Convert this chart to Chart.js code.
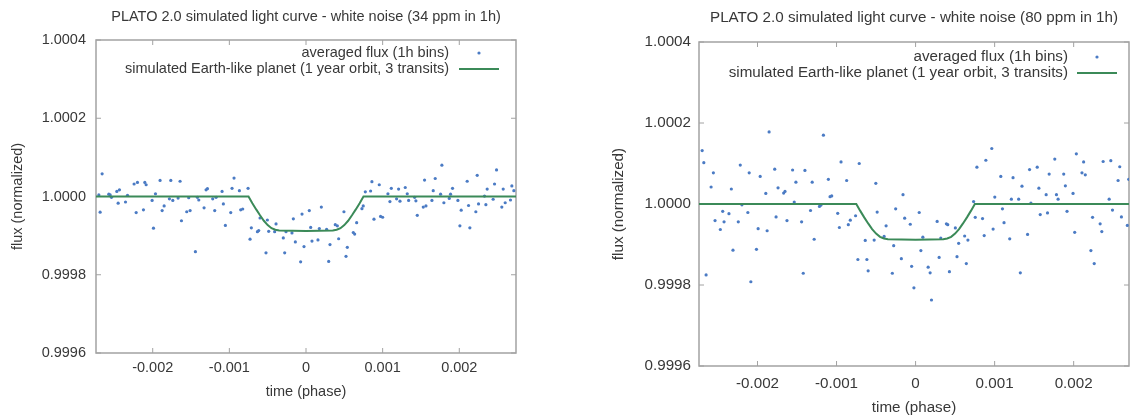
<!DOCTYPE html>
<html>
<head>
<meta charset="utf-8">
<title>PLATO 2.0 simulated light curves</title>
<script src="https://cdn.jsdelivr.net/npm/chart.js@4.4.1/dist/chart.umd.min.js"></script>
<style>
    html, body { margin: 0; padding: 0; background: #fff; width: 1133px; height: 418px; overflow: hidden; }
    .panel { position: absolute; top: 0; height: 418px; }
</style>
</head>
<body>
<div class="panel" style="left:0;width:566px"><canvas id="leftChart" width="566" height="418"></canvas></div>
<div class="panel" style="left:566px;width:567px"><canvas id="rightChart" width="567" height="418"></canvas></div>
<script>
// ---- data ----
const titles = [
    'PLATO 2.0 simulated light curve - white noise (34 ppm in 1h)',
    'PLATO 2.0 simulated light curve - white noise (80 ppm in 1h)'
];
const legendLabels = ['averaged flux (1h bins)', 'simulated Earth-like planet (1 year orbit, 3 transits)'];
const xTicks = [-0.002, -0.001, 0, 0.001, 0.002];
const xTickLabels = ['-0.002', '-0.001', '0', '0.001', '0.002'];
const yTicks = [0.9996, 0.9998, 1.0, 1.0002, 1.0004];
const yTickLabels = ['0.9996', '0.9998', '1.0000', '1.0002', '1.0004'];

// 34 ppm panel: averaged flux points
const leftPhase = [
    -0.002703, -0.002686, -0.002660, -0.002573, -0.002555, -0.002538, -0.002468, -0.002451, -0.002434,
    -0.002355, -0.002329, -0.002243, -0.002216, -0.002199, -0.002121, -0.002103, -0.002086, -0.002008,
    -0.001990, -0.001964, -0.001904, -0.001877, -0.001851, -0.001782, -0.001764, -0.001738, -0.001669,
    -0.001643, -0.001625, -0.001556, -0.001530, -0.001512, -0.001443, -0.001417, -0.001399, -0.001330,
    -0.001304, -0.001286, -0.001217, -0.001191, -0.001173, -0.001095, -0.001078, -0.001052, -0.000982,
    -0.000965, -0.000939, -0.000869, -0.000852, -0.000826, -0.000756, -0.000730, -0.000713, -0.000634,
    -0.000617, -0.000600, -0.000522, -0.000504, -0.000487, -0.000409, -0.000391, -0.000296, -0.000278,
    -0.000261, -0.000183, -0.000165, -0.000139, -0.000070, -0.000052, -0.000026,
    0.000043, 0.000061, 0.000078, 0.000156, 0.000174, 0.000200, 0.000269, 0.000296, 0.000313,
    0.000382, 0.000409, 0.000426, 0.000495, 0.000522, 0.000539, 0.000617, 0.000635, 0.000661,
    0.000730, 0.000747, 0.000774, 0.000843, 0.000860, 0.000887, 0.000956, 0.000973, 0.001000,
    0.001069, 0.001095, 0.001113, 0.001182, 0.001208, 0.001226, 0.001295, 0.001321, 0.001339,
    0.001417, 0.001434, 0.001452, 0.001530, 0.001547, 0.001565, 0.001643, 0.001660, 0.001686,
    0.001756, 0.001773, 0.001799, 0.001869, 0.001886, 0.001912, 0.001982, 0.002008, 0.002025,
    0.002103, 0.002121, 0.002138, 0.002216, 0.002234, 0.002251, 0.002329, 0.002347, 0.002364,
    0.002442, 0.002460, 0.002486, 0.002555, 0.002573, 0.002599, 0.002668, 0.002686, 0.002712
];
const leftFlux = [
    1.000004, 0.999960, 1.000058, 1.000006, 1.000004, 0.999998, 1.000013, 0.999983, 1.000017,
    0.999986, 1.000003, 1.000032, 0.999959, 1.000036, 0.999966, 1.000036, 1.000030, 0.999990,
    0.999919, 1.000007, 1.000041, 0.999964, 0.999976, 0.999994, 1.000041, 0.999990, 0.999996,
    1.000039, 0.999938, 0.999961, 0.999997, 0.999964, 0.999859, 0.999998, 0.999991, 0.999971,
    1.000017, 1.000020, 0.999994, 0.999964, 0.999998, 1.000013, 0.999981, 0.999926, 0.999959,
    1.000021, 1.000047, 1.000015, 0.999966, 0.999968, 1.000021, 0.999891, 0.999920, 0.999910,
    0.999913, 0.999945, 0.999856, 0.999940, 0.999911, 0.999910, 0.999930, 0.999894, 0.999856,
    0.999910, 0.999907, 0.999943, 0.999884, 0.999833, 0.999955, 0.999872,
    0.999964, 0.999921, 0.999886, 0.999889, 0.999918, 0.999973, 0.999916, 0.999834, 0.999877,
    0.999928, 0.999925, 0.999892, 0.999961, 0.999847, 0.999870, 0.999908, 0.999904, 0.999933,
    0.999969, 0.999976, 1.000012, 1.000014, 1.000038, 0.999942, 1.000030, 0.999949, 0.999947,
    1.000007, 0.999987, 1.000021, 0.999994, 1.000019, 0.999988, 1.000023, 1.000007, 0.999990,
    0.999998, 0.999989, 0.999952, 0.999973, 1.000042, 0.999976, 0.999990, 1.000015, 1.000046,
    1.000006, 1.000080, 0.999984, 0.999995, 1.000006, 1.000021, 0.999990, 0.999925, 0.999965,
    1.000039, 0.999977, 0.999920, 0.999961, 1.000054, 0.999981, 1.000001, 0.999979, 1.000019,
    0.999993, 1.000032, 1.000068, 0.999973, 1.000019, 0.999984, 0.999991, 1.000027, 1.000015
];

// 80 ppm panel: averaged flux points
const rightPhase = [
    -0.002700, -0.002679, -0.002650, -0.002587, -0.002558, -0.002537, -0.002470, -0.002440, -0.002423,
    -0.002361, -0.002331, -0.002310, -0.002243, -0.002218, -0.002197, -0.002122, -0.002105, -0.002084,
    -0.002013, -0.001992, -0.001966, -0.001895, -0.001878, -0.001853, -0.001782, -0.001765, -0.001740,
    -0.001669, -0.001652, -0.001627, -0.001556, -0.001535, -0.001514, -0.001442, -0.001421, -0.001400,
    -0.001329, -0.001308, -0.001283, -0.001216, -0.001199, -0.001166, -0.001103, -0.001082, -0.001061,
    -0.000985, -0.000964, -0.000943, -0.000872, -0.000851, -0.000826, -0.000759, -0.000730, -0.000713,
    -0.000637, -0.000616, -0.000600, -0.000524, -0.000503, -0.000486,
    -0.000398, -0.000373, -0.000294, -0.000277, -0.000252, -0.000180, -0.000159, -0.000138, -0.000067,
    -0.000050, -0.000021, 0.000046, 0.000067, 0.000092, 0.000159, 0.000184, 0.000201, 0.000273,
    0.000298, 0.000319, 0.000390, 0.000407, 0.000428, 0.000503, 0.000524, 0.000545, 0.000621,
    0.000642, 0.000662, 0.000734, 0.000755, 0.000776, 0.000847, 0.000868, 0.000889, 0.000964,
    0.000981, 0.001002, 0.001078, 0.001099, 0.001119, 0.001191, 0.001212, 0.001233, 0.001304,
    0.001325, 0.001346, 0.001417, 0.001442, 0.001459, 0.001539, 0.001560, 0.001577, 0.001652,
    0.001669, 0.001690, 0.001761, 0.001782, 0.001803, 0.001874, 0.001895, 0.001916, 0.001992,
    0.002013, 0.002034, 0.002105, 0.002126, 0.002147, 0.002218, 0.002239, 0.002260, 0.002335,
    0.002356, 0.002373, 0.002449, 0.002470, 0.002491, 0.002562, 0.002583, 0.002604, 0.002679,
    0.002696
];
const rightFlux = [
    1.000132, 1.000102, 0.999825, 1.000042, 1.000077, 0.999959, 0.999937, 0.999982, 0.999956,
    0.999976, 1.000037, 0.999886, 0.999956, 1.000096, 0.999998, 0.999979, 1.000077, 0.999808,
    0.999888, 0.999939, 1.000068, 1.000026, 0.999934, 1.000178, 1.000086, 0.999968, 1.000040,
    1.000027, 1.000031, 0.999959, 1.000084, 1.000005, 1.000054, 0.999956, 0.999829, 1.000083,
    0.999984, 1.000054, 0.999913, 0.999994, 0.999997, 1.000170, 1.000061, 1.000018, 1.000020,
    0.999977, 0.999942, 1.000104, 1.000058, 0.999949, 0.999960, 0.999971, 0.999863, 1.000100,
    0.999910, 0.999863, 0.999835, 0.999911, 1.000051, 0.999980,
    0.999920, 0.999946, 0.999829, 0.999897, 0.999988, 0.999865, 1.000023, 0.999965, 0.999950,
    0.999846, 0.999793, 0.999979, 0.999885, 0.999918, 0.999844, 0.999830, 0.999763, 0.999957,
    0.999868, 0.999916, 0.999951, 0.999949, 0.999833, 0.999941, 0.999870, 0.999903, 0.999921,
    0.999853, 0.999911, 1.000006, 0.999967, 1.000091, 0.999964, 0.999922, 1.000108, 1.000137,
    0.999938, 1.000017, 1.000068, 0.999988, 0.999954, 0.999914, 1.000012, 1.000065, 1.000012,
    0.999830, 1.000044, 0.999925, 1.000085, 1.000002, 1.000091, 1.000039, 0.999974, 1.000023,
    0.999978, 1.000074, 1.000111, 1.000023, 1.000012, 1.000074, 1.000045, 0.999982, 1.000026,
    0.999930, 1.000124, 1.000077, 1.000104, 1.000072, 0.999885, 0.999967, 0.999853, 0.999951,
    0.999932, 1.000105, 1.000012, 1.000107, 0.999985, 1.000058, 1.000092, 0.999968, 0.999947,
    1.000061
];

// transit model curve (same for both panels)
const modelPhase = [
    -0.00274, -0.00075, -0.0007, -0.00065, -0.0006, -0.00055, -0.0005, -0.00045, -0.0004, -0.00035, 0,
    0.00035, 0.0004, 0.00045, 0.0005, 0.00055, 0.0006, 0.00065, 0.0007, 0.00075, 0.00274
];
const modelFlux = [
    1.0, 1.0, 0.999983, 0.999967, 0.999952, 0.999938, 0.999927, 0.999919, 0.999915, 0.999913, 0.999912,
    0.999913, 0.999915, 0.999919, 0.999927, 0.999938, 0.999952, 0.999967, 0.999983, 1.0, 1.0
];

// ---- styling ----
const FONT = "'Liberation Sans', Arial, sans-serif";
const TEXT = '#383838';
const FRAME = '#a2a2a2';
const DOTS = '#4b7bc4';
const MODEL = '#3b8a58';

const toPoints = (xs, ys) => xs.map((x, i) => ({ x: x, y: ys[i] }));

// gnuplot-like box with inward ticks on all four sides
const gnuFrame = {
    id: 'gnuFrame',
    beforeDatasetsDraw(chart) {
        const { ctx, chartArea: a, scales } = chart;
        ctx.save();
        ctx.strokeStyle = FRAME;
        ctx.lineWidth = 1.5;
        ctx.strokeRect(a.left, a.top, a.right - a.left, a.bottom - a.top);
        ctx.lineWidth = 1;
        ctx.beginPath();
        scales.x.ticks.forEach(t => {
            const px = scales.x.getPixelForValue(t.value);
            ctx.moveTo(px, a.bottom); ctx.lineTo(px, a.bottom - 5);
            ctx.moveTo(px, a.top); ctx.lineTo(px, a.top + 5);
        });
        scales.y.ticks.forEach(t => {
            const py = scales.y.getPixelForValue(t.value);
            ctx.moveTo(a.left, py); ctx.lineTo(a.left + 5, py);
            ctx.moveTo(a.right, py); ctx.lineTo(a.right - 5, py);
        });
        ctx.stroke();
        ctx.restore();
    }
};

// title above the plot box and the key inside it, right aligned
function gnuText(cfg) {
    return {
        id: 'gnuText',
        afterDraw(chart) {
            const { ctx, chartArea: a } = chart;
            ctx.save();
            ctx.fillStyle = TEXT;
            ctx.textBaseline = 'middle';
            ctx.font = cfg.fontSize + 'px ' + FONT;
            ctx.textAlign = 'center';
            ctx.fillText(cfg.title, (a.left + a.right) / 2, cfg.titleY);

            ctx.textAlign = 'right';
            ctx.fillText(legendLabels[0], cfg.keyRight, cfg.keyY[0]);
            ctx.fillText(legendLabels[1], cfg.keyRight, cfg.keyY[1]);

            ctx.fillStyle = DOTS;
            ctx.beginPath();
            ctx.arc(cfg.sampleX, cfg.keyY[0], 1.6, 0, Math.PI * 2);
            ctx.fill();

            ctx.strokeStyle = MODEL;
            ctx.lineWidth = 2;
            ctx.beginPath();
            ctx.moveTo(cfg.sampleX - 20, cfg.keyY[1]);
            ctx.lineTo(cfg.sampleX + 20, cfg.keyY[1]);
            ctx.stroke();
            ctx.restore();
        }
    };
}

function buildChart(canvasId, phase, flux, cfg) {
    const font = { family: FONT, size: cfg.fontSize };
    return new Chart(document.getElementById(canvasId), {
        type: 'scatter',
        data: {
            datasets: [
                {
                    label: legendLabels[1],
                    data: toPoints(modelPhase, modelFlux),
                    showLine: true,
                    borderColor: MODEL,
                    borderWidth: 2,
                    pointRadius: 0,
                    tension: 0,
                    order: 0
                },
                {
                    label: legendLabels[0],
                    data: toPoints(phase, flux),
                    backgroundColor: DOTS,
                    borderWidth: 0,
                    pointRadius: 1.6,
                    order: 1
                }
            ]
        },
        options: {
            responsive: false,
            animation: false,
            layout: { padding: { top: cfg.padTop, right: cfg.padRight, left: 0, bottom: 0 } },
            plugins: {
                legend: { display: false },
                title: { display: false },
                tooltip: { enabled: false }
            },
            scales: {
                x: {
                    type: 'linear',
                    min: cfg.xMin,
                    max: cfg.xMax,
                    grid: { display: false, drawTicks: false },
                    border: { display: false },
                    afterBuildTicks: s => { s.ticks = xTicks.map(v => ({ value: v })); },
                    afterFit: s => { s.height = cfg.xHeight; },
                    ticks: {
                        padding: cfg.xTickPad,
                        color: TEXT,
                        font: font,
                        maxRotation: 0,
                        callback: (v, i) => xTickLabels[i]
                    },
                    title: {
                        display: true,
                        text: 'time (phase)',
                        color: TEXT,
                        font: font,
                        padding: { top: 0, bottom: cfg.xTitlePad }
                    }
                },
                y: {
                    type: 'linear',
                    min: 0.9996,
                    max: 1.0004,
                    grid: { display: false, drawTicks: false },
                    border: { display: false },
                    afterBuildTicks: s => { s.ticks = yTicks.map(v => ({ value: v })); },
                    afterFit: s => { s.width = cfg.yWidth; },
                    ticks: {
                        padding: cfg.yTickPad,
                        color: TEXT,
                        font: font,
                        callback: (v, i) => yTickLabels[i]
                    },
                    title: {
                        display: true,
                        text: 'flux (normalized)',
                        color: TEXT,
                        font: font,
                        padding: { top: cfg.yTitlePad, bottom: 0 }
                    }
                }
            }
        },
        plugins: [gnuFrame, gnuText(cfg)]
    });
}

document.addEventListener('DOMContentLoaded', () => {
    buildChart('leftChart', leftPhase, leftFlux, {
        title: titles[0],
        fontSize: 14.5,
        titleY: 17,
        padTop: 40,
        padRight: 50,
        yWidth: 96,
        xHeight: 65,
        xMin: -0.00274,
        xMax: 0.00274,
        xTickPad: 6,
        xTitlePad: 17,
        yTickPad: 10,
        yTitlePad: 9,
        keyRight: 449,
        keyY: [53, 69],
        sampleX: 479
    });

    buildChart('rightChart', rightPhase, rightFlux, {
        title: titles[1],
        fontSize: 15.2,
        titleY: 18,
        padTop: 42,
        padRight: 1,
        yWidth: 133,
        xHeight: 52,
        xMin: -0.00274,
        xMax: 0.0027,
        xTickPad: 9,
        xTitlePad: 1,
        yTickPad: 8,
        yTitlePad: 44,
        keyRight: 502,
        keyY: [57, 73],
        sampleX: 531
    });
});
</script>
</body>
</html>
